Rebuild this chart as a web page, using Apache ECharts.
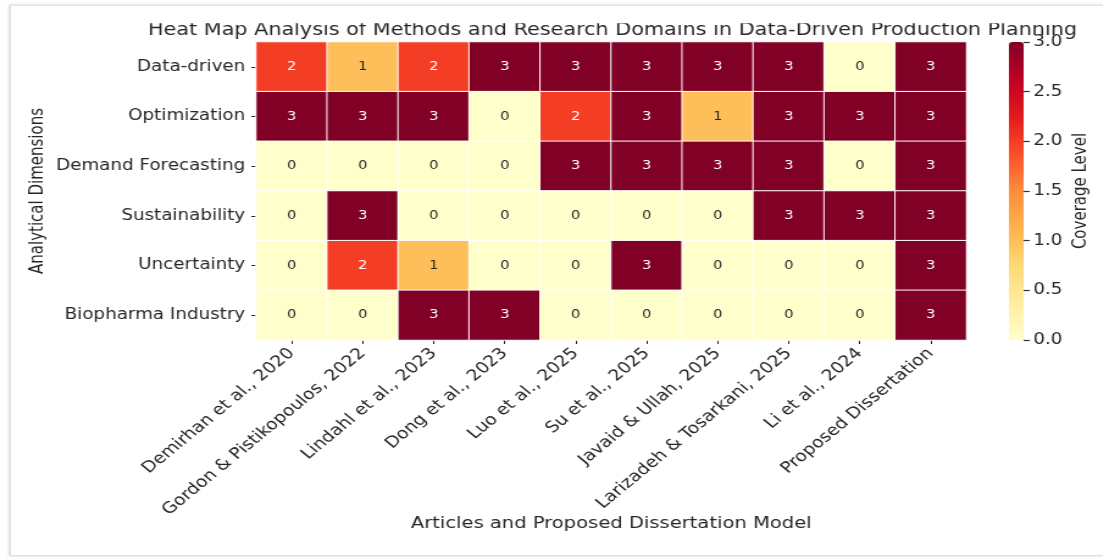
<!DOCTYPE html>
<html>
<head>
<meta charset="utf-8">
<script src="https://cdn.jsdelivr.net/npm/echarts@6/dist/echarts.min.js"></script>
<style>
  html, body { margin: 0; padding: 0; background: #ffffff; width: 1103px; height: 557px; overflow: hidden; }
  #card {
    position: absolute; left: 10px; top: 5px; width: 1110px; height: 549px;
    border: 1px solid #e2e2e2; background: #ffffff;
    box-shadow: -1px 0 3px rgba(0,0,0,0.18);
  }
  /* the figure is laid out narrow and widened horizontally */
  #chart {
    position: absolute; left: 0; top: 0; width: 904px; height: 557px;
    transform: scaleX(1.22); transform-origin: 0 0;
  }
</style>
</head>
<body>
<div id="card"></div>
<div id="chart"></div>
<script>
// Articles compared (columns) and analytical dimensions (rows)
const articles = [
  'Demirhan et al., 2020',
  'Gordon & Pistikopoulos, 2022',
  'Lindahl et al., 2023',
  'Dong et al., 2023',
  'Luo et al., 2025',
  'Su et al., 2025',
  'Javaid & Ullah, 2025',
  'Larizadeh & Tosarkani, 2025',
  'Li et al., 2024',
  'Proposed Dissertation'
];
const dimensions = [
  'Data-driven',
  'Optimization',
  'Demand Forecasting',
  'Sustainability',
  'Uncertainty',
  'Biopharma Industry'
];

// Coverage level (0-3) of each dimension per article
const dataDriven        = [2, 1, 2, 3, 3, 3, 3, 3, 0, 3];
const optimization      = [3, 3, 3, 0, 2, 3, 1, 3, 3, 3];
const demandForecasting = [0, 0, 0, 0, 3, 3, 3, 3, 0, 3];
const sustainability    = [0, 3, 0, 0, 0, 0, 0, 3, 3, 3];
const uncertainty       = [0, 2, 1, 0, 0, 3, 0, 0, 0, 3];
const biopharma         = [0, 0, 3, 3, 0, 0, 0, 0, 0, 3];

const coverageRows = [dataDriven, optimization, demandForecasting, sustainability, uncertainty, biopharma];

// Colour bar scale
const coverageMin = 0;
const coverageMax = 3;
const coverageStep = 0.5;

// YlOrRd colour ramp
const ylOrRd = ['#ffffcc', '#ffeda0', '#fed976', '#feb24c', '#fd8d3c', '#fc4e2a', '#e31a1c', '#bd0026', '#800026'];

const FONT = 'DejaVu Sans';
const TEXT = '#262626';

const cells = [];
coverageRows.forEach((row, r) => {
  row.forEach((v, c) => {
    cells.push({
      value: [c, r, v],
      label: { color: v >= 2 ? '#ffffff' : TEXT }
    });
  });
});

const chart = echarts.init(document.getElementById('chart'), null, { renderer: 'canvas' });

chart.setOption({
  animation: false,
  textStyle: { fontFamily: FONT },
  title: {
    text: 'Heat Map Analysis of Methods and Research Domains in Data-Driven Production Planning',
    left: 497,
    top: 17.5,
    textAlign: 'center',
    textStyle: { fontFamily: FONT, fontSize: 17, fontWeight: 'normal', color: TEXT }
  },
  // upper edge of the title is trimmed by the figure frame
  graphic: [{
    type: 'rect',
    z: 100,
    shape: { x: 100, y: 12, width: 800, height: 11.3 },
    style: { fill: '#ffffff' }
  }],
  grid: [
    { left: 210, right: 112, top: 42, height: 298 },
    { left: 827, width: 12, top: 42, height: 298 }
  ],
  xAxis: [
    {
      type: 'category',
      gridIndex: 0,
      data: articles,
      position: 'bottom',
      axisLine: { show: false },
      axisTick: { show: true, alignWithLabel: true, length: 4, lineStyle: { color: TEXT } },
      axisLabel: {
        interval: 0, rotate: 45, margin: 11,
        fontFamily: FONT, fontSize: 15.5, color: TEXT
      },
      splitLine: { show: false },
      name: 'Articles and Proposed Dissertation Model',
      nameLocation: 'middle',
      nameGap: 176,
      nameMoveOverlap: false,
      nameTextStyle: { fontFamily: FONT, fontSize: 16, color: TEXT }
    },
    {
      type: 'value',
      gridIndex: 1,
      show: false,
      min: 0,
      max: 1
    }
  ],
  yAxis: [
    {
      type: 'category',
      gridIndex: 0,
      data: dimensions,
      inverse: true,
      axisLine: { show: false },
      axisTick: { show: true, alignWithLabel: true, length: 4, lineStyle: { color: TEXT } },
      axisLabel: { interval: 0, margin: 9, fontFamily: FONT, fontSize: 15, color: TEXT },
      splitLine: { show: false },
      name: 'Analytical Dimensions',
      nameLocation: 'middle',
      nameRotate: 90,
      nameGap: 171,
      nameMoveOverlap: false,
      nameTextStyle: { fontFamily: FONT, fontSize: 15, color: TEXT }
    },
    {
      type: 'value',
      gridIndex: 1,
      position: 'right',
      min: coverageMin,
      max: coverageMax,
      interval: coverageStep,
      axisLine: { show: true, onZero: false, lineStyle: { color: 'rgba(0,0,0,0)' } },
      axisTick: { show: true, inside: false, length: 5, lineStyle: { color: '#333333', width: 1.2 } },
      axisLabel: {
        margin: 8, fontFamily: FONT, fontSize: 15, color: TEXT,
        formatter: v => v.toFixed(1)
      },
      splitLine: { show: false },
      name: 'Coverage Level',
      nameLocation: 'middle',
      nameRotate: 90,
      nameGap: 40,
      nameMoveOverlap: false,
      nameTextStyle: { fontFamily: FONT, fontSize: 15, color: TEXT }
    }
  ],
  visualMap: {
    type: 'continuous',
    min: coverageMin,
    max: coverageMax,
    seriesIndex: 0,
    orient: 'vertical',
    left: 827,
    top: 42,
    itemWidth: 12,
    itemHeight: 298,
    padding: 0,
    calculable: false,
    hoverLink: false,
    text: null,
    z: 1,
    inRange: { color: ylOrRd }
  },
  series: [{
    type: 'heatmap',
    xAxisIndex: 0,
    yAxisIndex: 0,
    data: cells,
    label: {
      show: true,
      fontFamily: FONT,
      fontSize: 12,
      formatter: p => String(p.value[2])
    },
    itemStyle: { borderColor: '#ffffff', borderWidth: 1 },
    emphasis: { disabled: true }
  }]
});
</script>
</body>
</html>
